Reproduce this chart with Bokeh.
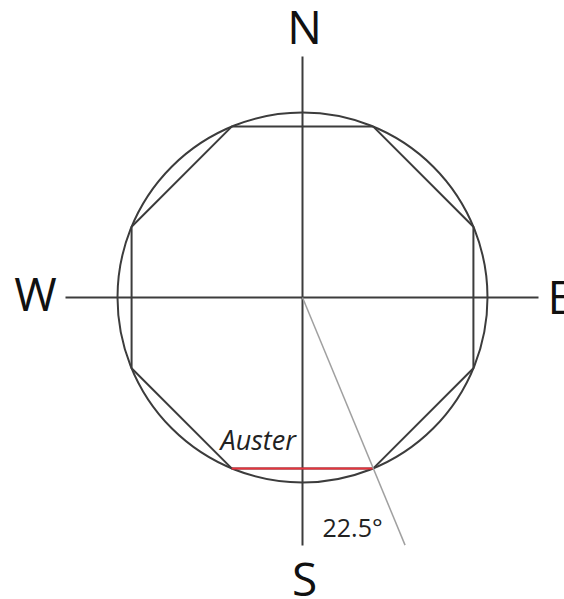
import numpy as np
from bokeh.plotting import figure
from bokeh.models import Range1d
from bokeh.core.properties import value
from bokeh.embed import file_html
from bokeh.resources import INLINE

# ---- values ----
radius = 185
octagon_angles_deg = [22.5, 67.5, 112.5, 157.5, 202.5, 247.5, 292.5, 337.5]
red_edge_angles_deg = [157.5, 202.5]
ray_angle_deg = 22.5
ray_length = 268
vertical_axis_y = [241, -248]
horizontal_axis_x = [-237, 236]

compass_labels = ["N", "S", "W"]
compass_x = [2, 2, -267]
compass_y = [272, -280, 5]
east_label = ["E"]
east_x = [245]
east_y = [2]

auster_label = ["Auster"]
auster_x = [-82]
auster_y = [-142]
angle_label = ["22.5°"]
angle_x = [20]
angle_y = [-229]

LINE = "#3c3c3c"

p = figure(width=564, height=599, output_backend="svg", toolbar_location=None,
           x_range=Range1d(-302, 262), y_range=Range1d(-302, 297),
           min_border=0, min_border_left=0, min_border_right=0,
           min_border_top=0, min_border_bottom=0)
p.axis.visible = False
p.xgrid.visible = False
p.ygrid.visible = False
p.outline_line_color = None
p.background_fill_color = "white"
p.border_fill_color = "white"

# compass axes
p.line(x=[0, 0], y=vertical_axis_y, line_color=LINE, line_width=2)
p.line(x=horizontal_axis_x, y=[0, 0], line_color=LINE, line_width=2)

# circle
p.circle(x=[0], y=[0], radius=radius, fill_color=None, line_color=LINE, line_width=2)

# octagon
a = np.radians(octagon_angles_deg + [octagon_angles_deg[0]])
p.line(x=radius * np.sin(a), y=radius * np.cos(a), line_color=LINE, line_width=2)

# red edge (Auster)
r = np.radians(red_edge_angles_deg)
p.line(x=radius * np.sin(r), y=radius * np.cos(r), line_color="#e8323c", line_width=2)

# 22.5 degree ray
ra = np.radians(180 - ray_angle_deg)
p.line(x=[0, ray_length * np.sin(ra)], y=[0, ray_length * np.cos(ra)],
       line_color="#a0a0a0", line_width=1.5)

# labels
p.text(x=compass_x, y=compass_y, text=compass_labels, text_font=value("Open Sans"),
       text_font_size="46px", text_align="center", text_baseline="alphabetic",
       text_color="#111111")
p.text(x=east_x, y=east_y, text=east_label, text_font=value("Open Sans"),
       text_font_size="46px", text_align="left", text_baseline="alphabetic",
       text_color="#111111")
p.text(x=auster_x, y=auster_y, text=auster_label, text_font=value("Open Sans"),
       text_font_style="italic", text_font_size="27px", text_align="left",
       text_baseline="alphabetic", text_color="#222222")
p.text(x=angle_x, y=angle_y, text=angle_label, text_font=value("Open Sans"),
       text_font_size="25px", text_align="left", text_baseline="alphabetic",
       text_color="#222222")

open("out.html", "w").write(file_html(p, INLINE))
